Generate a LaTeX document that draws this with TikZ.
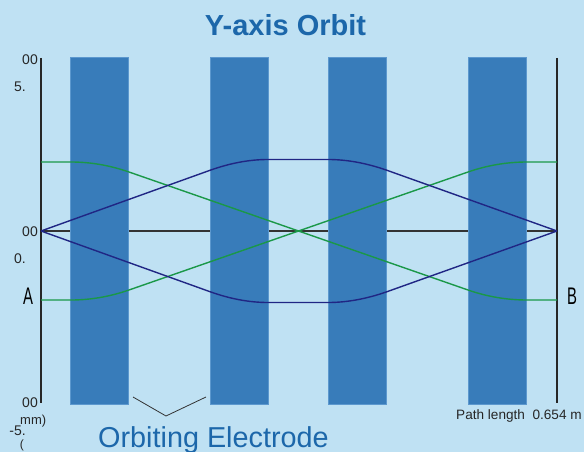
\documentclass[tikz,border=0pt]{standalone}
\usepackage{fontspec}
\setmainfont{Liberation Sans}
\usepackage{tikz}
\usetikzlibrary{positioning,calc}

\definecolor{bgblue}{RGB}{191,225,243}
\definecolor{electrodeblue}{RGB}{56,124,186}
\definecolor{electrodeedge}{RGB}{92,152,206}
\definecolor{titleblue}{RGB}{28,103,170}
\definecolor{orbitnavy}{RGB}{32,38,132}
\definecolor{orbitgreen}{RGB}{26,152,72}

\begin{document}
\begin{tikzpicture}[x=1pt,y=-1pt,
    electrode/.style={rectangle,inner sep=0pt,minimum width=58pt,minimum height=347pt,
      fill=electrodeblue,draw=electrodeedge,line width=0.8pt},
    axislabel/.style={anchor=east,inner sep=0pt,font=\fontsize{14}{14}\selectfont,text=black!85},
    endlabel/.style={inner sep=0pt,font=\fontsize{24}{24}\selectfont},
    navyorbit/.style={draw=orbitnavy,line width=1.4pt},
    greenorbit/.style={draw=orbitgreen,line width=1.4pt}]
  \fill[bgblue] (0,0) rectangle (584,452);
  \useasboundingbox (0,0) rectangle (584,452);

  \coordinate (L) at (41,231);
  \coordinate (R) at (557,231);
  \coordinate (Ltop) at (41,58);
  \coordinate (Lbot) at (41,403);
  \coordinate (Rtop) at (557,58);
  \coordinate (Rbot) at (557,403);
  \coordinate (Lhi) at (41,162);
  \coordinate (Llo) at (41,300);
  \coordinate (Rhi) at (557,162);
  \coordinate (Rlo) at (557,300);

  \draw[black!80,line width=1.1pt] (L) -- (R);

  \node[electrode] (e1) at (99.5,230.5) {};
  \node[electrode] (e2) at (239,230.5) {};
  \node[electrode] (e3) at (357.5,230.5) {};
  \node[electrode] (e4) at (497.5,230.5) {};

  \draw[black!85,line width=1.1pt] (Ltop) -- (Lbot);
  \draw[black!85,line width=1.1pt] (Rtop) -- (Rbot);

  \path[greenorbit] (Lhi) -- (71,162) .. controls (90.3,162) and (109.7,165.3) .. (129,172)
    -- (468,290) .. controls (487.7,296.8) and (507.3,300) .. (527,300) -- (Rlo);
  \path[greenorbit] (Llo) -- (71,300) .. controls (90.3,300) and (109.7,296.7) .. (129,290)
    -- (468,172) .. controls (487.7,165.2) and (507.3,162) .. (527,162) -- (Rhi);
  \path[navyorbit] (L) -- (210,170.3) .. controls (229.3,163.4) and (248.7,159.5) .. (268,159.5)
    -- (328,159.5) .. controls (347.7,159.5) and (367.3,163.4) .. (387,170.3) -- (R);
  \path[navyorbit] (L) -- (210,291.7) .. controls (229.3,298.6) and (248.7,302.5) .. (268,302.5)
    -- (328,302.5) .. controls (347.7,302.5) and (367.3,298.6) .. (387,291.7) -- (R);

  \node[anchor=base,inner sep=0pt,text=titleblue,font=\bfseries\fontsize{29}{29}\selectfont]
    (title) at (285.5,35.5) {Y-axis Orbit};

  \node[axislabel] (top00) at (38,60) {00};
  \node[axislabel] (top5) at (26,87) {5.};
  \node[axislabel] (mid00) at (38,232) {00};
  \node[axislabel] (mid0) at (26,259) {0.};
  \node[axislabel] (bot00) at (38,403) {00};
  \node[anchor=west,inner sep=0pt,font=\fontsize{13}{13}\selectfont,text=black!85] (unit) at (20,421) {mm)};
  \node[axislabel] (bot5) at (26,431) {-5.};
  \node[axislabel,font=\fontsize{12}{12}\selectfont] (paren) at (24,445) {(};

  \node[endlabel] (A) at (28,296.5) {\scalebox{0.62}[1]{A}};
  \node[endlabel] (B) at (572,296) {\scalebox{0.62}[1]{B}};

  \node[anchor=west,inner sep=0pt,font=\fontsize{13.6}{13.6}\selectfont,text=black!85]
    (pathlen) at (456,416) {Path length\ \ 0.654 m};

  \coordinate (v1) at (133,397);
  \coordinate (vtip) at (166,416);
  \coordinate (v2) at (206,397);
  \draw[black!80,line width=0.8pt] (v1) -- (vtip) -- (v2);
  \node[anchor=base west,inner sep=0pt,text=titleblue,font=\fontsize{28.8}{28.8}\selectfont]
    (caption) at (98,447) {Orbiting Electrode};
\end{tikzpicture}
\end{document}
